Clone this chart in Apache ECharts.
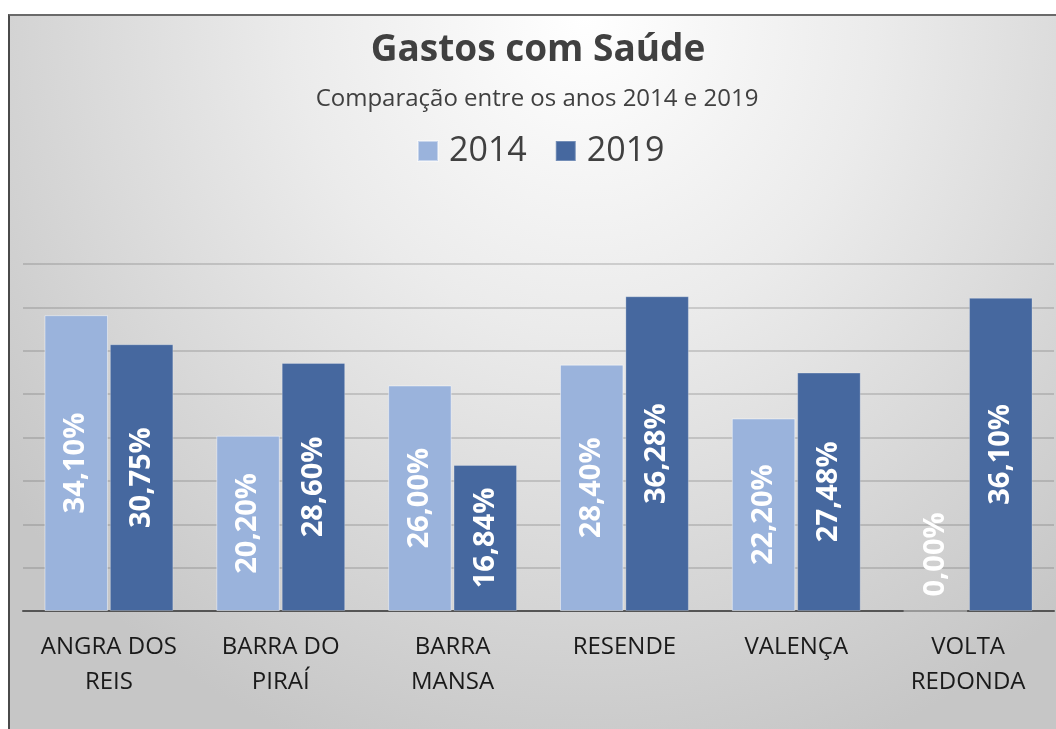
<!DOCTYPE html>
<html>
<head>
<meta charset="utf-8">
<script src="https://cdn.jsdelivr.net/npm/echarts@6/dist/echarts.min.js"></script>
<style>
  html, body { margin: 0; padding: 0; background: #fff; }
  #chart {
    position: absolute;
    left: 8px;
    top: 14px;
    width: 1048px;
    height: 715px;
    border-left: 2px solid #4a4a4a;
    border-top: 2px solid #6a6a6a;
    box-sizing: border-box;
    background: radial-gradient(ellipse 70% 110% at 55% 0%, #ffffff 0%, #ebebeb 40%, #c6c6c6 100%);
  }
</style>
</head>
<body>
<div id="chart"></div>
<script>
const cities = ["ANGRA DOS\nREIS", "BARRA DO\nPIRAÍ", "BARRA\nMANSA", "RESENDE", "VALENÇA", "VOLTA\nREDONDA"];
const values2014 = [34.10, 20.20, 26.00, 28.40, 22.20, 0.00];
const values2019 = [30.75, 28.60, 16.84, 36.28, 27.48, 36.10];
const seriesNames = ["2014", "2019"];

const FONT = "'Open Sans', 'Noto Sans', sans-serif";

function fmtPct(v) {
  return v.toFixed(2).replace(".", ",") + "%";
}

const barLabel = {
  show: true,
  position: "inside",
  rotate: 90,
  color: "#ffffff",
  fontFamily: FONT,
  fontWeight: "bold",
  fontSize: 29,
  formatter: (p) => fmtPct(p.value)
};

// zero-height bars get their label sitting on the baseline
function toItems(values) {
  return values.map((v) => {
    if (v === 0) {
      return {
        value: v,
        label: { position: "insideBottom", align: "left", verticalAlign: "middle", distance: 15 }
      };
    }
    return v;
  });
}

const chart = echarts.init(document.getElementById("chart"), null, { renderer: "canvas" });

chart.setOption({
  backgroundColor: "transparent",
  animation: false,
  title: [
    {
      text: "Gastos com Saúde",
      left: 523,
      top: 11,
      textAlign: "center",
      textStyle: { fontFamily: FONT, fontWeight: "bold", fontSize: 37, color: "#404040" }
    },
    {
      text: "Comparação entre os anos 2014 e 2019",
      left: 522,
      top: 66,
      textAlign: "center",
      textStyle: { fontFamily: FONT, fontWeight: "normal", fontSize: 24, color: "#404040" }
    }
  ],
  legend: {
    data: seriesNames,
    left: 402,
    top: 113,
    itemWidth: 20,
    itemHeight: 20,
    itemGap: 28,
    icon: "rect",
    textStyle: { fontFamily: FONT, fontSize: 34, color: "#404040", padding: [0, 0, 0, 6] }
  },
  grid: {
    left: 13,
    right: 2,
    top: 248,
    bottom: 118,
    containLabel: false
  },
  xAxis: {
    type: "category",
    data: cities,
    axisLine: { lineStyle: { color: "#555555", width: 2 } },
    axisTick: { show: false },
    axisLabel: {
      fontFamily: FONT,
      fontSize: 24,
      color: "#1a1a1a",
      lineHeight: 35,
      margin: 19,
      interval: 0
    }
  },
  yAxis: {
    type: "value",
    min: 0,
    max: 40,
    interval: 5,
    axisLine: { show: false },
    axisTick: { show: false },
    axisLabel: { show: false },
    splitLine: { lineStyle: { color: "rgba(80,80,80,0.28)", width: 1.5 } }
  },
  series: [
    {
      name: seriesNames[0],
      type: "bar",
      data: toItems(values2014),
      barGap: "3%",
      barCategoryGap: "25%",
      itemStyle: { color: "#9ab3dc", borderColor: "rgba(255,255,255,0.45)", borderWidth: 1 },
      label: barLabel
    },
    {
      name: seriesNames[1],
      type: "bar",
      data: toItems(values2019),
      barGap: "3%",
      barCategoryGap: "25%",
      itemStyle: { color: "#46689f", borderColor: "rgba(255,255,255,0.25)", borderWidth: 1 },
      label: barLabel
    }
  ]
});
</script>
</body>
</html>
